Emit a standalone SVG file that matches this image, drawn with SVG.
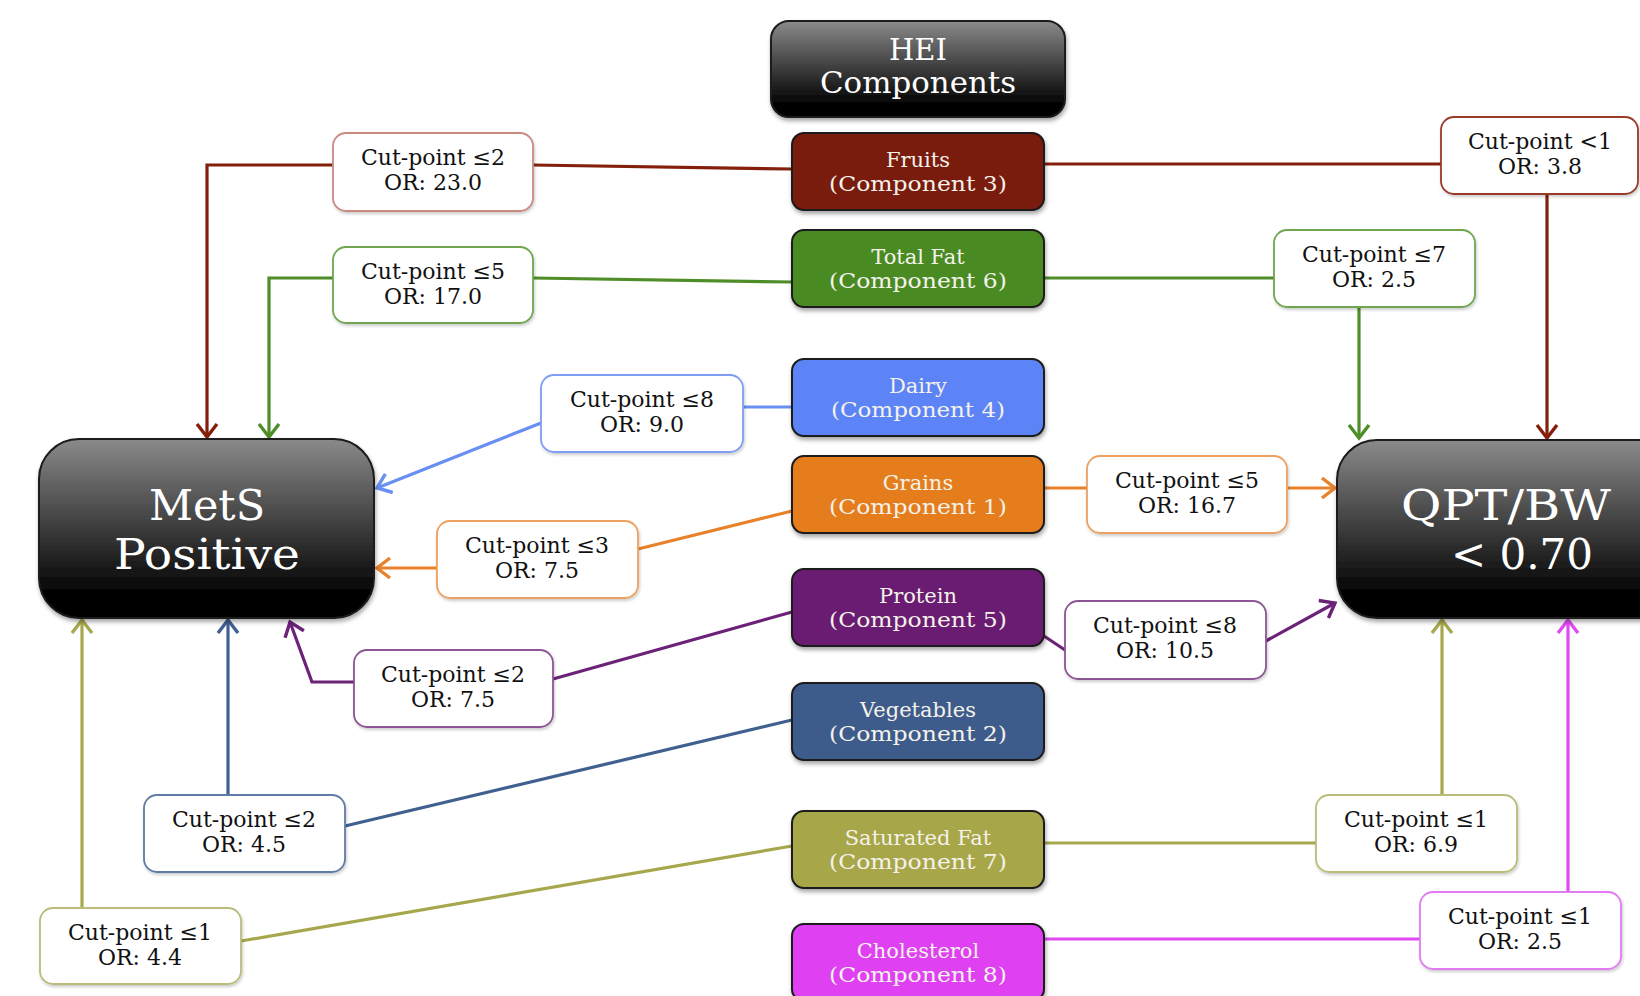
<svg xmlns="http://www.w3.org/2000/svg" width="1640" height="996" viewBox="0 0 1640 996">
<style>
.comp{stroke:#1a1a1a;stroke-width:2;filter:url(#sh)}
.dark{stroke:#1a1a1a;stroke-width:2;fill:url(#g);filter:url(#sh)}
.lab{fill:#fff;stroke-width:1.8;filter:url(#sh2)}
.ct{font-family:"DejaVu Serif","Liberation Serif",serif;font-size:21px;fill:#f4f2ea;text-anchor:middle}
.lt{font-family:"DejaVu Serif","Liberation Serif",serif;font-size:22px;fill:#111;text-anchor:middle}
.bt{font-family:"DejaVu Serif","Liberation Serif",serif;fill:#fff;text-anchor:middle}
.c{fill:none;stroke-width:3.2}
</style>
<defs>
<linearGradient id="g" x1="0" y1="0" x2="0" y2="1">
<stop offset="0" stop-color="#8a8a8a"/>
<stop offset="0.85" stop-color="#050505"/>
<stop offset="1" stop-color="#000"/>
</linearGradient>
<filter id="sh" x="-10%" y="-10%" width="125%" height="130%">
<feDropShadow dx="1" dy="3" stdDeviation="2" flood-color="#000" flood-opacity="0.35"/>
</filter>
<filter id="sh2" x="-10%" y="-10%" width="125%" height="130%">
<feDropShadow dx="1" dy="2" stdDeviation="1.5" flood-color="#000" flood-opacity="0.2"/>
</filter>
<marker id="mFr" markerUnits="userSpaceOnUse" markerWidth="32" markerHeight="32" refX="16" refY="16" orient="auto" viewBox="0 0 32 32"><path d="M3,6 L16,16 L3,26" fill="none" stroke="#841f0c" stroke-width="3.4"/></marker>
<marker id="mFa" markerUnits="userSpaceOnUse" markerWidth="32" markerHeight="32" refX="16" refY="16" orient="auto" viewBox="0 0 32 32"><path d="M3,6 L16,16 L3,26" fill="none" stroke="#4e8d28" stroke-width="3.4"/></marker>
<marker id="mDa" markerUnits="userSpaceOnUse" markerWidth="32" markerHeight="32" refX="16" refY="16" orient="auto" viewBox="0 0 32 32"><path d="M3,6 L16,16 L3,26" fill="none" stroke="#6a8ff2" stroke-width="3.4"/></marker>
<marker id="mGr" markerUnits="userSpaceOnUse" markerWidth="32" markerHeight="32" refX="16" refY="16" orient="auto" viewBox="0 0 32 32"><path d="M3,6 L16,16 L3,26" fill="none" stroke="#e7812a" stroke-width="3.4"/></marker>
<marker id="mPr" markerUnits="userSpaceOnUse" markerWidth="32" markerHeight="32" refX="16" refY="16" orient="auto" viewBox="0 0 32 32"><path d="M3,6 L16,16 L3,26" fill="none" stroke="#6b2277" stroke-width="3.4"/></marker>
<marker id="mVe" markerUnits="userSpaceOnUse" markerWidth="32" markerHeight="32" refX="16" refY="16" orient="auto" viewBox="0 0 32 32"><path d="M3,6 L16,16 L3,26" fill="none" stroke="#40608f" stroke-width="3.4"/></marker>
<marker id="mSa" markerUnits="userSpaceOnUse" markerWidth="32" markerHeight="32" refX="16" refY="16" orient="auto" viewBox="0 0 32 32"><path d="M3,6 L16,16 L3,26" fill="none" stroke="#a7a84e" stroke-width="3.4"/></marker>
<marker id="mCh" markerUnits="userSpaceOnUse" markerWidth="32" markerHeight="32" refX="16" refY="16" orient="auto" viewBox="0 0 32 32"><path d="M3,6 L16,16 L3,26" fill="none" stroke="#e04af2" stroke-width="3.4"/></marker>
</defs>
<rect width="1640" height="996" fill="#fff"/>

<g id="connectors">
<path class="c" stroke="#841f0c" d="M792,169 L533,165"/>
<path class="c" stroke="#841f0c" d="M333,165 L207,165 L207,437" marker-end="url(#mFr)"/>
<path class="c" stroke="#841f0c" d="M1044,164 L1441,164"/>
<path class="c" stroke="#841f0c" d="M1547,194 L1547,438" marker-end="url(#mFr)"/>

<path class="c" stroke="#4e8d28" d="M792,282 L533,278"/>
<path class="c" stroke="#4e8d28" d="M333,278 L269,278 L269,437" marker-end="url(#mFa)"/>
<path class="c" stroke="#4e8d28" d="M1044,278 L1274,278"/>
<path class="c" stroke="#4e8d28" d="M1359,307 L1359,438" marker-end="url(#mFa)"/>

<path class="c" stroke="#6a8ff2" d="M792,407 L743,407"/>
<path class="c" stroke="#6a8ff2" d="M541,423 L377,488" marker-end="url(#mDa)"/>

<path class="c" stroke="#e7812a" d="M792,511 L638,549"/>
<path class="c" stroke="#e7812a" d="M437,568 L377,568" marker-end="url(#mGr)"/>
<path class="c" stroke="#e7812a" d="M1044,488 L1087,488"/>
<path class="c" stroke="#e7812a" d="M1287,488 L1335,488" marker-end="url(#mGr)"/>

<path class="c" stroke="#6b2277" d="M792,612 L553,679"/>
<path class="c" stroke="#6b2277" d="M354,682 L312,682 L290,622" marker-end="url(#mPr)"/>
<path class="c" stroke="#6b2277" d="M1044,636 L1065,650"/>
<path class="c" stroke="#6b2277" d="M1266,641 L1335,603" marker-end="url(#mPr)"/>

<path class="c" stroke="#40608f" d="M792,720 L345,826"/>
<path class="c" stroke="#40608f" d="M228,795 L228,620" marker-end="url(#mVe)"/>

<path class="c" stroke="#a7a84e" d="M792,846 L241,941"/>
<path class="c" stroke="#a7a84e" d="M82,908 L82,620" marker-end="url(#mSa)"/>
<path class="c" stroke="#a7a84e" d="M1044,843 L1316,843"/>
<path class="c" stroke="#a7a84e" d="M1442,795 L1442,620" marker-end="url(#mSa)"/>

<path class="c" stroke="#e04af2" d="M1044,939 L1420,939"/>
<path class="c" stroke="#e04af2" d="M1568,892 L1568,620" marker-end="url(#mCh)"/>
</g>

<g id="hei">
<rect class="dark" x="771" y="21" width="294" height="96" rx="18"/>
<text class="bt" x="918" y="60" font-size="29">HEI</text>
<text class="bt" x="918" y="93" font-size="29" textLength="196" lengthAdjust="spacingAndGlyphs">Components</text>
</g>

<g id="mets">
<rect class="dark" x="39" y="439" width="335" height="179" rx="40"/>
<text class="bt" x="207" y="520" font-size="43">MetS</text>
<text class="bt" x="207" y="569" font-size="43" textLength="186" lengthAdjust="spacingAndGlyphs">Positive</text>
</g>

<g id="qpt">
<rect class="dark" x="1337" y="440" width="350" height="178" rx="40"/>
<text class="bt" x="1506" y="520" font-size="43" textLength="210" lengthAdjust="spacingAndGlyphs">QPT/BW</text>
<text class="bt" x="1522" y="569" font-size="43" textLength="142" lengthAdjust="spacingAndGlyphs">&lt; 0.70</text>
</g>

<g id="fruits">
<rect class="comp" x="792" y="133" width="252" height="77" rx="12" fill="#7a1a08"/>
<text class="ct" x="918" y="167">Fruits</text>
<text class="ct" x="918" y="191" textLength="178" lengthAdjust="spacingAndGlyphs">(Component 3)</text>
</g>
<g id="totalfat">
<rect class="comp" x="792" y="230" width="252" height="77" rx="12" fill="#4a8b24"/>
<text class="ct" x="918" y="264">Total Fat</text>
<text class="ct" x="918" y="288" textLength="178" lengthAdjust="spacingAndGlyphs">(Component 6)</text>
</g>
<g id="dairy">
<rect class="comp" x="792" y="359" width="252" height="77" rx="12" fill="#5b84f6"/>
<text class="ct" x="918" y="393">Dairy</text>
<text class="ct" x="918" y="417" textLength="174" lengthAdjust="spacingAndGlyphs">(Component 4)</text>
</g>
<g id="grains">
<rect class="comp" x="792" y="456" width="252" height="77" rx="12" fill="#e57d1f"/>
<text class="ct" x="918" y="490">Grains</text>
<text class="ct" x="918" y="514" textLength="178" lengthAdjust="spacingAndGlyphs">(Component 1)</text>
</g>
<g id="protein">
<rect class="comp" x="792" y="569" width="252" height="77" rx="12" fill="#6a1f72"/>
<text class="ct" x="918" y="603">Protein</text>
<text class="ct" x="918" y="627" textLength="178" lengthAdjust="spacingAndGlyphs">(Component 5)</text>
</g>
<g id="vegetables">
<rect class="comp" x="792" y="683" width="252" height="77" rx="12" fill="#3e5b8b"/>
<text class="ct" x="918" y="717">Vegetables</text>
<text class="ct" x="918" y="741" textLength="178" lengthAdjust="spacingAndGlyphs">(Component 2)</text>
</g>
<g id="satfat">
<rect class="comp" x="792" y="811" width="252" height="77" rx="12" fill="#a7a649"/>
<text class="ct" x="918" y="845">Saturated Fat</text>
<text class="ct" x="918" y="869" textLength="178" lengthAdjust="spacingAndGlyphs">(Component 7)</text>
</g>
<g id="cholesterol">
<rect class="comp" x="792" y="924" width="252" height="77" rx="12" fill="#df40f2"/>
<text class="ct" x="918" y="958">Cholesterol</text>
<text class="ct" x="918" y="982" textLength="178" lengthAdjust="spacingAndGlyphs">(Component 8)</text>
</g>

<g id="lab-fruits-l">
<rect class="lab" x="333" y="133" width="200" height="78" rx="13" stroke="#c98a82"/>
<text class="lt" x="433" y="165">Cut-point ≤2</text>
<text class="lt" x="433" y="190">OR: 23.0</text>
</g>
<g id="lab-fruits-r">
<rect class="lab" x="1441" y="117" width="197" height="77" rx="13" stroke="#9a3a2a"/>
<text class="lt" x="1540" y="149">Cut-point &lt;1</text>
<text class="lt" x="1540" y="174">OR: 3.8</text>
</g>
<g id="lab-fat-l">
<rect class="lab" x="333" y="247" width="200" height="76" rx="13" stroke="#6fa650"/>
<text class="lt" x="433" y="279">Cut-point ≤5</text>
<text class="lt" x="433" y="304">OR: 17.0</text>
</g>
<g id="lab-fat-r">
<rect class="lab" x="1274" y="230" width="201" height="77" rx="13" stroke="#6fa650"/>
<text class="lt" x="1374" y="262">Cut-point ≤7</text>
<text class="lt" x="1374" y="287">OR: 2.5</text>
</g>
<g id="lab-dairy">
<rect class="lab" x="541" y="375" width="202" height="77" rx="13" stroke="#7f9df2"/>
<text class="lt" x="642" y="407">Cut-point ≤8</text>
<text class="lt" x="642" y="432">OR: 9.0</text>
</g>
<g id="lab-grains-l">
<rect class="lab" x="437" y="521" width="201" height="77" rx="13" stroke="#eda161"/>
<text class="lt" x="537" y="553">Cut-point ≤3</text>
<text class="lt" x="537" y="578">OR: 7.5</text>
</g>
<g id="lab-grains-r">
<rect class="lab" x="1087" y="456" width="200" height="77" rx="13" stroke="#eda161"/>
<text class="lt" x="1187" y="488">Cut-point ≤5</text>
<text class="lt" x="1187" y="513">OR: 16.7</text>
</g>
<g id="lab-protein-l">
<rect class="lab" x="354" y="650" width="199" height="77" rx="13" stroke="#8c5594"/>
<text class="lt" x="453" y="682">Cut-point ≤2</text>
<text class="lt" x="453" y="707">OR: 7.5</text>
</g>
<g id="lab-protein-r">
<rect class="lab" x="1065" y="601" width="201" height="78" rx="13" stroke="#8c5594"/>
<text class="lt" x="1165" y="633">Cut-point ≤8</text>
<text class="lt" x="1165" y="658">OR: 10.5</text>
</g>
<g id="lab-veg">
<rect class="lab" x="144" y="795" width="201" height="77" rx="13" stroke="#5f7ca6"/>
<text class="lt" x="244" y="827">Cut-point ≤2</text>
<text class="lt" x="244" y="852">OR: 4.5</text>
</g>
<g id="lab-sat-l">
<rect class="lab" x="40" y="908" width="201" height="76" rx="13" stroke="#bcbc7a"/>
<text class="lt" x="140" y="940">Cut-point ≤1</text>
<text class="lt" x="140" y="965">OR: 4.4</text>
</g>
<g id="lab-sat-r">
<rect class="lab" x="1316" y="795" width="201" height="77" rx="13" stroke="#bcbc7a"/>
<text class="lt" x="1416" y="827">Cut-point ≤1</text>
<text class="lt" x="1416" y="852">OR: 6.9</text>
</g>
<g id="lab-chol">
<rect class="lab" x="1420" y="892" width="201" height="77" rx="13" stroke="#e27af2"/>
<text class="lt" x="1520" y="924">Cut-point ≤1</text>
<text class="lt" x="1520" y="949">OR: 2.5</text>
</g>
</svg>
